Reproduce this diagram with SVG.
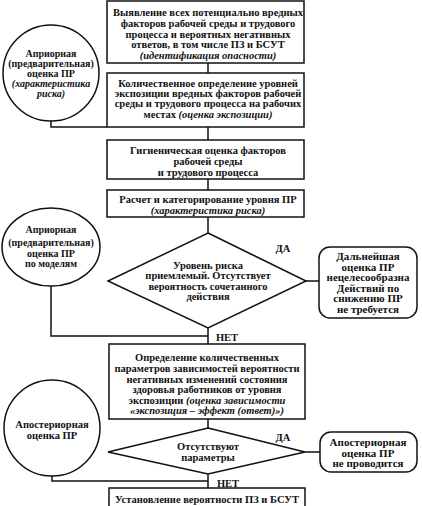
<svg xmlns="http://www.w3.org/2000/svg" width="422" height="506" viewBox="0 0 422 506">
<style>
.b{fill:#fff;stroke:#111;stroke-width:1.5}
.c{fill:none;stroke:#111;stroke-width:1.5}
text{font-family:"Liberation Serif","Times New Roman",serif;font-weight:bold;font-size:10.5px;text-anchor:middle;dominant-baseline:central;fill:#111}
.i{font-style:italic}
.s{font-size:11px}
.k{font-size:10px}
</style>
<rect width="422" height="506" fill="#fff"/>
<g id="connectors">
<path class="c" d="M208,63V73M208,127V140M208,179V190M208,217V233M208,328V344M208,419V428M208,474V488"/>
<path class="c" d="M51,121V127H107"/>
<path class="c" d="M51,285V336H208"/>
<path class="c" d="M52,476V481H208"/>
<path class="c" d="M306,281H319M305,452H320"/>
<text x="283" y="248">ДА</text>
<text x="227" y="337">НЕТ</text>
<text x="283" y="437">ДА</text>
<text x="228" y="483">НЕТ</text>
</g>
<g id="box1">
<rect class="b" x="107" y="1" width="197" height="62"/>
<text x="208" y="12.5">Выявление всех потенциально вредных</text>
<text x="208" y="23.5">факторов рабочей среды и трудового</text>
<text x="208" y="34">процесса и вероятных негативных</text>
<text x="208" y="44.5">ответов, в том числе ПЗ и БСУТ</text>
<text x="208" y="55" class="i">(идентификация опасности)</text>
</g>
<g id="box2">
<rect class="b" x="107" y="73" width="197" height="54"/>
<text x="208" y="83">Количественное определение уровней</text>
<text x="208" y="93">экспозиции вредных факторов рабочей</text>
<text x="208" y="103.5">среды и трудового процесса на рабочих</text>
<text x="208" y="114">местах <tspan class="i">(оценка экспозиции)</tspan></text>
</g>
<g id="box3">
<rect class="b" x="107" y="140" width="197" height="39"/>
<text x="208" y="150.5">Гигиеническая оценка факторов</text>
<text x="208" y="161.5">рабочей среды</text>
<text x="208" y="172.5">и трудового процесса</text>
</g>
<g id="box4">
<rect class="b" x="107" y="190" width="197" height="27"/>
<text x="208" y="199.5">Расчет и категорирование уровня ПР</text>
<text x="208" y="210" class="i">(характеристика риска)</text>
</g>
<g id="circle1">
<circle class="b" cx="51" cy="73" r="48"/>
<text class="k" x="51" y="53">Априорная</text>
<text class="k" x="51" y="63">(предварительная)</text>
<text class="k" x="51" y="73">оценка ПР</text>
<text x="51" y="83" class="i k">(характеристика</text>
<text x="51" y="93" class="i k">риска)</text>
</g>
<g id="decision1">
<polygon class="b" points="208,233 306,281 208,328 108,281"/>
<text x="208" y="265">Уровень риска</text>
<text x="208" y="275.5">приемлемый. Отсутствует</text>
<text x="208" y="286">вероятность сочетанного</text>
<text x="208" y="296.5">действия</text>
</g>
<g id="circle2">
<ellipse class="b" cx="51" cy="247" rx="49" ry="39"/>
<text class="k" x="51" y="229">Априорная</text>
<text class="k" x="51" y="242">(предварительная)</text>
<text class="k" x="51" y="253">оценка ПР</text>
<text class="k" x="51" y="263">по моделям</text>
</g>
<g id="result1">
<rect class="b" x="319" y="247" width="98" height="71" rx="11"/>
<text class="s" x="368" y="256">Дальнейшая</text>
<text class="s" x="368" y="266.5">оценка ПР</text>
<text class="s" x="368" y="277">нецелесообразна</text>
<text class="s" x="368" y="287.5">Действий по</text>
<text class="s" x="368" y="298">снижению ПР</text>
<text class="s" x="368" y="308.5">не требуется</text>
</g>
<g id="box5">
<rect class="b" x="109" y="344" width="196" height="75"/>
<text x="207" y="357.5">Определение количественных</text>
<text x="207" y="368">параметров зависимостей вероятности</text>
<text x="207" y="379">негативных изменений состояния</text>
<text x="207" y="389.5">здоровья работников от уровня</text>
<text x="207" y="400">экспозиции <tspan class="i">(оценка зависимости</tspan></text>
<text x="207" y="410.5" class="i">«экспозиция – эффект (ответ)»)</text>
</g>
<g id="circle3">
<circle class="b" cx="52" cy="428" r="48"/>
<text x="52" y="424">Апостериорная</text>
<text x="52" y="435">оценка ПР</text>
</g>
<g id="decision2">
<polygon class="b" points="208,428 305,452 208,474 108,452"/>
<text x="208" y="446">Отсутствуют</text>
<text x="208" y="457">параметры</text>
</g>
<g id="result2">
<rect class="b" x="320" y="432" width="97" height="40" rx="11"/>
<text class="s" x="368" y="442">Апостериорная</text>
<text class="s" x="368" y="452.5">оценка ПР</text>
<text class="s" x="368" y="463">не проводится</text>
</g>
<g id="box6">
<rect class="b" x="109" y="488" width="196" height="30"/>
<text x="207" y="499">Установление вероятности ПЗ и БСУТ</text>
</g>
</svg>
